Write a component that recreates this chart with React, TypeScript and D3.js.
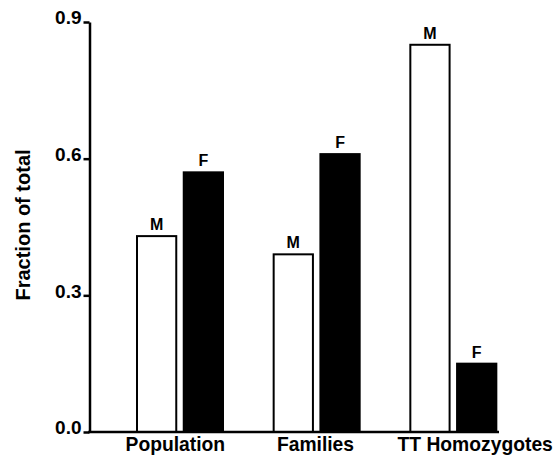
import React, { useEffect, useRef } from 'react';
import * as d3 from 'd3';

const categories = ['Population', 'Families', 'TT Homozygotes'];
const sexes = ['M', 'F'];
const maleValues = [0.43, 0.39, 0.85];
const femaleValues = [0.57, 0.61, 0.15];
const yTicks = [0, 0.3, 0.6, 0.9];
const yTitle = 'Fraction of total';

const FONT = '"Liberation Sans", Arial, Helvetica, sans-serif';

export default function App() {
    const ref = useRef<SVGSVGElement>(null);

    useEffect(() => {
        const svg = d3.select(ref.current);
        svg.selectAll('*').remove();

        const left = 89.5;
        const right = 499;
        const top = 22;
        const bottom = 432;

        const rows = categories.map((c, i) => ({
            name: c,
            values: [
                { sex: 'M', value: maleValues[i] },
                { sex: 'F', value: femaleValues[i] },
            ],
        }));

        const x0 = d3.scaleBand()
            .domain(categories)
            .range([112, 522])
            .padding(0);

        const x1 = d3.scaleBand()
            .domain(sexes)
            .range([25, 111])
            .paddingInner(0.16);

        const y = d3.scaleLinear()
            .domain([0, 0.9])
            .range([bottom, top]);

        // bars
        const group = svg.selectAll('g.group')
            .data(rows)
            .enter()
            .append('g')
            .attr('class', 'group')
            .attr('transform', d => `translate(${x0(d.name)},0)`);

        group.selectAll('rect')
            .data(d => d.values)
            .enter()
            .append('rect')
            .attr('x', d => x1(d.sex)!)
            .attr('y', d => y(d.value))
            .attr('width', x1.bandwidth())
            .attr('height', d => y(0) - y(d.value))
            .attr('fill', d => d.sex === 'M' ? '#fff' : '#000')
            .attr('stroke', '#000')
            .attr('stroke-width', 2);

        group.selectAll('text')
            .data(d => d.values)
            .enter()
            .append('text')
            .attr('x', d => x1(d.sex)! + x1.bandwidth() / 2)
            .attr('y', d => y(d.value) - 6)
            .attr('text-anchor', 'middle')
            .attr('font-family', FONT)
            .attr('font-weight', 'bold')
            .attr('font-size', 16)
            .text(d => d.sex);

        // y axis
        const yAxis = svg.append('g')
            .attr('transform', `translate(${left},0)`)
            .call(d3.axisLeft(y)
                .tickValues(yTicks)
                .tickFormat(d3.format('.1f'))
                .tickSize(6)
                .tickSizeOuter(0)
                .tickPadding(2));

        yAxis.select('.domain')
            .attr('stroke-width', 2.5);
        yAxis.selectAll('.tick line')
            .attr('stroke-width', 2.5);
        yAxis.selectAll('.tick text')
            .attr('font-family', FONT)
            .attr('font-weight', 'bold')
            .attr('font-size', 19)
            .attr('fill', '#000')
            .attr('dy', '0.1em');

        // x axis line
        svg.append('line')
            .attr('x1', left - 1.25)
            .attr('x2', right)
            .attr('y1', bottom)
            .attr('y2', bottom)
            .attr('stroke', '#000')
            .attr('stroke-width', 2.5);

        const labelShift = [-5, -1.5, 21.5];
        svg.selectAll('text.cat')
            .data(categories)
            .enter()
            .append('text')
            .attr('class', 'cat')
            .attr('x', (d, i) => x0(d)! + x0.bandwidth() / 2 + labelShift[i])
            .attr('y', 450.5)
            .attr('text-anchor', 'middle')
            .attr('font-family', FONT)
            .attr('font-weight', 'bold')
            .attr('font-size', 19.3)
            .text(d => d);

        svg.append('text')
            .attr('transform', 'translate(30,225) rotate(-90)')
            .attr('text-anchor', 'middle')
            .attr('font-family', FONT)
            .attr('font-weight', 'bold')
            .attr('font-size', 20)
            .text(yTitle);
    }, []);

    return (
        <svg ref={ref}
            width={556}
            height={456}
            style={{ position: 'absolute', left: 0, top: 0, background: '#fff' }}
        >
        </svg>
    );
}
